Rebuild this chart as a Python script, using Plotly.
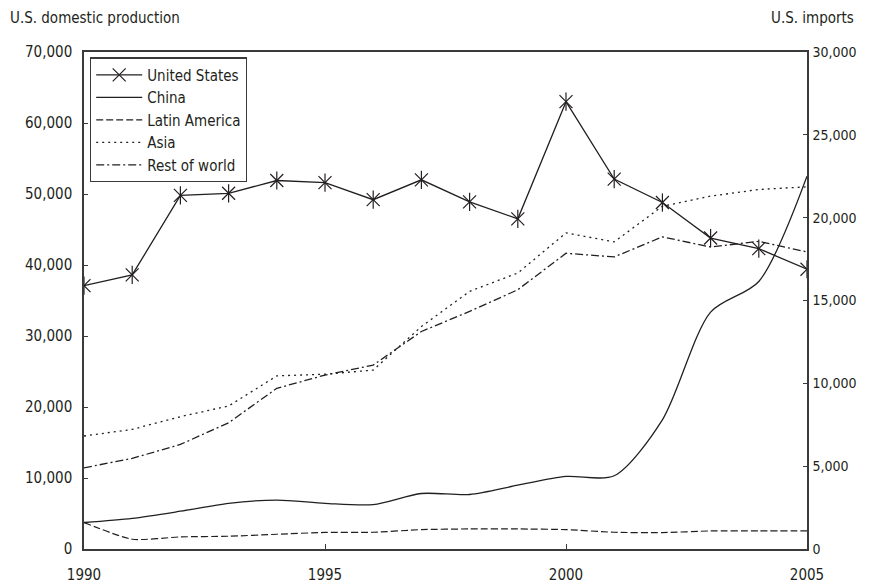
import plotly.graph_objects as go

years = list(range(1990, 2006))
us_production = [37100, 38600, 49800, 50100, 51900, 51600, 49200, 52000, 48900, 46500, 63000, 52100, 48800, 43800, 42300, 39400]
china = [1600, 1850, 2280, 2760, 2950, 2760, 2680, 3350, 3290, 3850, 4380, 4420, 7800, 14300, 16150, 22500]
latin_america = [1600, 590, 730, 770, 890, 1000, 1010, 1170, 1210, 1210, 1170, 1010, 990, 1090, 1090, 1090]
asia = [6820, 7220, 7990, 8630, 10450, 10550, 10800, 13430, 15550, 16660, 19080, 18540, 20690, 21300, 21700, 21860]
rest_of_world = [4900, 5470, 6310, 7620, 9700, 10500, 11100, 13130, 14340, 15650, 17850, 17630, 18840, 18230, 18570, 17930]

FONT = "DejaVu Sans Condensed, Liberation Sans Narrow, sans-serif"
INK = "#231f20"
AX = "#3a3a3a"

fig = go.Figure()
fig.add_trace(go.Scatter(x=years, y=us_production, name="United States", mode="lines+markers",
                         line=dict(color=INK, width=1.3),
                         marker=dict(symbol="x-thin-open", size=13, color=INK, line=dict(color=INK, width=1.2))))
fig.add_trace(go.Scatter(x=years, y=us_production, showlegend=False, mode="markers", hoverinfo="skip",
                         marker=dict(symbol="line-ns-open", size=13, color=INK, line=dict(color=INK, width=1.2))))
fig.add_trace(go.Scatter(x=years, y=china, name="China", mode="lines", yaxis="y2",
                         line=dict(color=INK, width=1.3, shape="spline", smoothing=0.8)))
fig.add_trace(go.Scatter(x=years, y=latin_america, name="Latin America", mode="lines", yaxis="y2",
                         line=dict(color=INK, width=1.2, dash="7px,3px", shape="spline", smoothing=0.6)))
fig.add_trace(go.Scatter(x=years, y=asia, name="Asia", mode="lines", yaxis="y2",
                         line=dict(color=INK, width=1.3, dash="2px,4px")))
fig.add_trace(go.Scatter(x=years, y=rest_of_world, name="Rest of world", mode="lines", yaxis="y2",
                         line=dict(color=INK, width=1.3, dash="8px,3px,2px,3px")))

fig.update_layout(
    width=869, height=587,
    margin=dict(l=76, r=70, t=44, b=46, pad=0),
    paper_bgcolor="white", plot_bgcolor="white",
    font=dict(family=FONT, size=15, color=INK),
    showlegend=True,
    legend=dict(x=0.0083, y=0.989, xanchor="left", yanchor="top",
                bordercolor=AX, borderwidth=1.2, bgcolor="white",
                font=dict(family=FONT, size=15, color=INK),
                tracegroupgap=0, itemwidth=46),
    xaxis=dict(range=[1990, 2005], tickvals=[1990, 1995, 2000, 2005], ticktext=["1990", "1995", "2000", "2005"],
               ticks="inside", ticklen=5, tickcolor=AX, showgrid=False, zeroline=False, ticklabelstandoff=11,
               showline=True, linecolor=AX, linewidth=1.5, mirror=True),
    yaxis=dict(range=[0, 70000], tickvals=[0, 10000, 20000, 30000, 40000, 50000, 60000, 70000],
               tickformat=",", ticks="inside", ticklen=4, tickcolor=AX, showgrid=False, zeroline=False,
               ticklabelstandoff=7, showline=True, linecolor=AX, linewidth=1.5),
    yaxis2=dict(range=[0, 30000], tickvals=[0, 5000, 10000, 15000, 20000, 25000, 30000],
                tickformat=",", overlaying="y", side="right", ticks="inside", ticklen=4, tickcolor=AX,
                tickfont=dict(family=FONT, size=14, color=INK),
                ticklabelstandoff=1, showgrid=False, zeroline=False, showline=True, linecolor=AX, linewidth=1.5),
    annotations=[
        dict(text="U.S. domestic production", xref="paper", yref="paper", x=-0.1051, y=1.0, yshift=34,
             xanchor="left", yanchor="middle", showarrow=False, font=dict(family=FONT, size=15, color=INK)),
        dict(text="U.S. imports", xref="paper", yref="paper", x=1.0678, y=1.0, yshift=34,
             xanchor="right", yanchor="middle", showarrow=False, font=dict(family=FONT, size=15, color=INK)),
    ],
)

fig.write_html("out.html")
